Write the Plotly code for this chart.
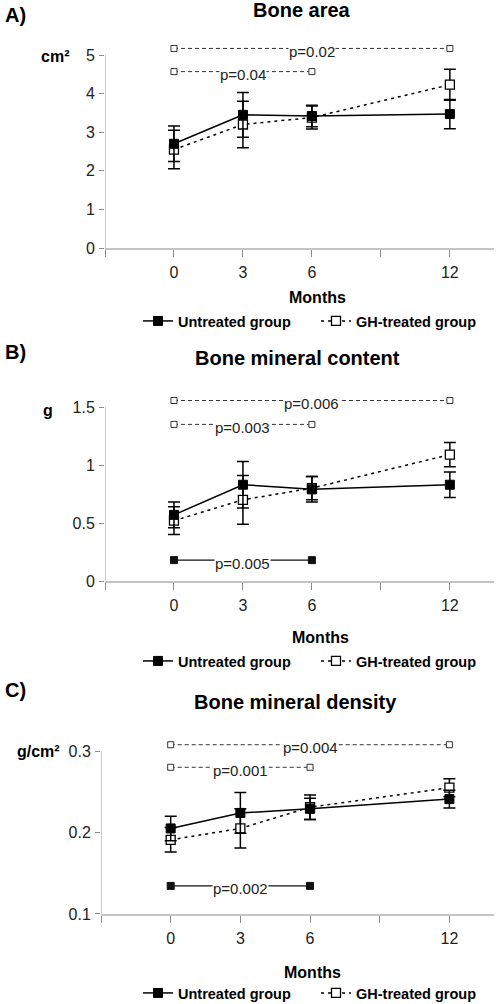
import plotly.graph_objects as go

W, H = 500, 1004
FONT = "Liberation Sans, Arial, sans-serif"

# ---- data ----
months = [0, 3, 6, 12]
tick_labels = ["", "0", "3", "6", "", "12"]

panels = ["A)", "B)", "C)"]
titles = ["Bone area", "Bone mineral content", "Bone mineral density"]
units = ["cm²", "g", "g/cm²"]
series_names = ["Untreated group", "GH-treated group"]

area_untreated = [2.70, 3.45, 3.42, 3.47]
area_untreated_sd = [0.46, 0.58, 0.28, 0.38]
area_gh = [2.55, 3.20, 3.38, 4.23]
area_gh_sd = [0.50, 0.60, 0.30, 0.40]

bmc_untreated = [0.57, 0.83, 0.79, 0.83]
bmc_untreated_sd = [0.11, 0.20, 0.11, 0.11]
bmc_gh = [0.52, 0.70, 0.80, 1.09]
bmc_gh_sd = [0.12, 0.21, 0.10, 0.105]

bmd_untreated = [0.205, 0.224, 0.229, 0.241]
bmd_untreated_sd = [0.015, 0.025, 0.013, 0.011]
bmd_gh = [0.191, 0.205, 0.231, 0.255]
bmd_gh_sd = [0.015, 0.024, 0.015, 0.011]

# significance brackets: (from month, to month, level, label, group)
area_p = [(0, 12, 5.17, "p=0.02", "gh"), (0, 6, 4.57, "p=0.04", "gh")]
bmc_p = [(0, 12, 1.556, "p=0.006", "gh"), (0, 6, 1.35, "p=0.003", "gh"),
         (0, 6, 0.18, "p=0.005", "un")]
bmd_p = [(0, 12, 0.3077, "p=0.004", "gh"), (0, 6, 0.280, "p=0.001", "gh"),
         (0, 6, 0.1345, "p=0.002", "un")]

y_ticks = [[0, 1, 2, 3, 4, 5], [0, 0.5, 1, 1.5], [0.1, 0.2, 0.3]]
y_ticktext = [["0", "1", "2", "3", "4", "5"], ["0", "0.5", "1", "1.5"], ["0.1", "0.2", "0.3"]]

# ---- layout geometry (pixels) ----
geo = [
    dict(x0=105, x1=494, y0=248, ppu=38.6, ymin=0, ymax=5.3, ty=10, ly=15, my=298, legy=321, ux=55, uy=57, tx=302, mx=317),
    dict(x0=105, x1=494, y0=581, ppu=116, ymin=0, ymax=1.62, ty=358, ly=352, my=637, legy=661, ux=48, uy=410, tx=297, mx=320),
    dict(x0=101, x1=494, y0=914, ppu=815, ymin=0.1, ymax=0.315, ty=702, ly=690, my=972, legy=993, ux=38, uy=751, tx=295, mx=312),
]

data = [
    (area_untreated, area_untreated_sd, area_gh, area_gh_sd, area_p),
    (bmc_untreated, bmc_untreated_sd, bmc_gh, bmc_gh_sd, bmc_p),
    (bmd_untreated, bmd_untreated_sd, bmd_gh, bmd_gh_sd, bmd_p),
]


def xpos(m):
    return tick_labels.index(str(m))


xs = [xpos(m) for m in months]
fig = go.Figure()
annotations = []
shapes = []
layout = {}

for i in range(3):
    g = geo[i]
    un, un_sd, gh, gh_sd, plines = data[i]
    sfx = "" if i == 0 else str(i + 1)
    xa, ya = "x" + sfx, "y" + sfx
    leg = "legend" + sfx
    ytop_px = g["y0"] - (g["ymax"] - g["ymin"]) * g["ppu"]
    layout["xaxis" + sfx] = dict(
        domain=[g["x0"] / W, g["x1"] / W], anchor=ya, automargin=False,
        range=[0, 5.64], tickmode="array", tickvals=list(range(len(tick_labels))),
        ticktext=tick_labels, ticks="outside", ticklen=7, tickcolor="#8a8a8a", tickwidth=1,
        showline=True, linecolor="#c4c4c4", linewidth=2, showgrid=False, zeroline=False,
        tickfont=dict(family=FONT, size=16, color="#222"), ticklabelstandoff=2,
    )
    layout["yaxis" + sfx] = dict(
        domain=[1 - g["y0"] / H, 1 - ytop_px / H], anchor=xa, automargin=False,
        range=[g["ymin"], g["ymax"]], tickmode="array", tickvals=y_ticks[i], ticktext=y_ticktext[i],
        ticks="outside", ticklen=5, tickcolor="#8a8a8a", showline=False, showgrid=False,
        zeroline=False, tickfont=dict(family=FONT, size=16, color="#222"), ticklabelstandoff=1,
    )
    shapes.append(dict(type="line", xref=xa, yref=ya, x0=0, x1=0, y0=g["ymin"], y1=y_ticks[i][-1],
                       line=dict(color="#9a9a9a", width=1)))

    for (m0, m1, lev, lab, grp) in plines:
        if grp == "gh":
            ln = dict(color="#333", width=1, dash="4px,3px")
            mk = dict(symbol="square", size=6, color="white", line=dict(color="#333", width=1))
        else:
            ln = dict(color="#111", width=1.2)
            mk = dict(symbol="square", size=7, color="#111", line=dict(color="#111", width=1))
        fig.add_trace(go.Scatter(x=[xpos(m0), xpos(m1)], y=[lev, lev], mode="lines+markers",
                                 line=ln, marker=mk, xaxis=xa, yaxis=ya, showlegend=False,
                                 cliponaxis=False, hoverinfo="skip"))
        annotations.append(dict(x=(xpos(m0) + xpos(m1)) / 2, y=lev, xref=xa, yref=ya, text=lab,
                                xanchor="center", yanchor="middle",
                                showarrow=False, yshift=-3, bgcolor="white", borderpad=0,
                                font=dict(family=FONT, size=15, color="#222")))

    fig.add_trace(go.Scatter(
        x=xs, y=gh, name=series_names[1], mode="lines+markers", xaxis=xa, yaxis=ya, legend=leg,
        line=dict(color="black", width=1.5, dash="3px,4px"),
        marker=dict(symbol="square", size=9, color="white", line=dict(color="black", width=1.3)),
        error_y=dict(type="data", array=gh_sd, visible=True, color="black", thickness=1.5, width=6),
    ))
    fig.add_trace(go.Scatter(
        x=xs, y=un, name=series_names[0], mode="lines+markers", xaxis=xa, yaxis=ya, legend=leg,
        line=dict(color="black", width=1.5),
        marker=dict(symbol="square", size=9, color="black", line=dict(color="black", width=1)),
        error_y=dict(type="data", array=un_sd, visible=True, color="black", thickness=1.5, width=6),
    ))

    layout[leg] = dict(orientation="h", x=138 / W, y=1 - g["legy"] / H, xanchor="left", yanchor="middle",
                       traceorder="reversed", itemwidth=30, entrywidth=133, bgcolor="rgba(0,0,0,0)",
                       font=dict(family=FONT, size=14.5, color="black", weight="bold"),
                       tracegroupgap=0)

    annotations.append(dict(x=g["tx"] / W, y=1 - g["ty"] / H, xref="paper", yref="paper",
                            xanchor="center", yanchor="middle",
                            text="<b>" + titles[i] + "</b>", showarrow=False,
                            font=dict(family=FONT, size=20, color="black")))
    annotations.append(dict(x=3 / W, y=1 - g["ly"] / H, xref="paper", yref="paper", xanchor="left",
                            yanchor="middle",
                            text="<b>" + panels[i] + "</b>", showarrow=False,
                            font=dict(family=FONT, size=20, color="black")))
    annotations.append(dict(x=g["ux"] / W, y=1 - g["uy"] / H, xref="paper", yref="paper",
                            xanchor="center", yanchor="middle",
                            text="<b>" + units[i] + "</b>", showarrow=False,
                            font=dict(family=FONT, size=16, color="black")))
    annotations.append(dict(x=g["mx"] / W, y=1 - g["my"] / H, xref="paper", yref="paper",
                            xanchor="center", yanchor="middle",
                            text="<b>Months</b>", showarrow=False,
                            font=dict(family=FONT, size=16, color="black")))

fig.update_layout(
    width=W, height=H, margin=dict(l=0, r=0, t=0, b=0, autoexpand=False),
    paper_bgcolor="white", plot_bgcolor="white",
    annotations=annotations, shapes=shapes, **layout,
)

fig.write_html("out.html", config={"displayModeBar": False},
               post_script="document.body.style.margin='0px';")
